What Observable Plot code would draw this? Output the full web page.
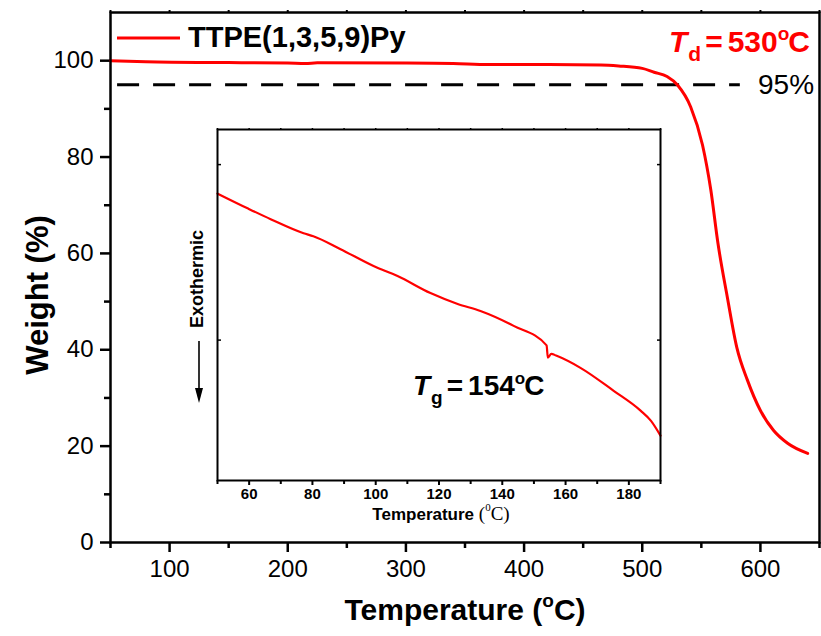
<!DOCTYPE html>
<html><head><meta charset="utf-8">
<script src="https://cdn.jsdelivr.net/npm/d3@7"></script>
<script src="https://cdn.jsdelivr.net/npm/@observablehq/plot@0.6"></script>
<style>
body{margin:0;background:#fff;}
#wrap{position:relative;width:821px;height:636px;overflow:hidden;}
#wrap svg{position:absolute;}
</style></head><body><div id="wrap"></div>
<script>
// TGA curve (main)
const tgaTemp   = [50, 80, 150, 200, 215, 225, 300, 340, 370, 420, 465, 480, 500, 510, 521, 530, 541, 551, 558, 564, 572, 580, 589, 600, 611, 623, 640];
const tgaWeight = [100, 99.8, 99.6, 99.5, 99.4, 99.55, 99.5, 99.4, 99.2, 99.2, 99.1, 98.9, 98.4, 97.6, 96.7, 94.9, 90.4, 82.5, 73.2, 62.2, 50.9, 40.5, 33.7, 27.4, 23.3, 20.6, 18.5];
// DSC curve (inset, arbitrary units)
const dscTemp   = [50, 59.5, 66.8, 77.2, 80.3, 88.9, 99.3, 106.9, 117.3, 125.9, 133.1, 143.6, 154.0, 154.4, 155.5, 157, 164.7, 175.2, 183.7, 187, 190];
const dscSignal = [1.635, 1.551, 1.489, 1.409, 1.392, 1.318, 1.222, 1.165, 1.068, 1.006, 0.966, 0.881, 0.77, 0.70, 0.722, 0.712, 0.642, 0.511, 0.398, 0.34, 0.256];
// threshold line
const thresholdLevel = [95];
const thresholdSpan = [56, 583];
// ticks
const mainXTicks = [100, 200, 300, 400, 500, 600];
const mainXMinor = [50, 150, 250, 350, 450, 550, 650];
const mainYTicks = [0, 20, 40, 60, 80, 100];
const mainYMinor = [10, 30, 50, 70, 90];
const insetXTicks = [60, 80, 100, 120, 140, 160, 180];
const insetXMinor = [50, 70, 90, 110, 130, 150, 170, 190];
const insetYTicks = [0.8, 1.8];

const RED = "#ff0000";
const SANS = "Liberation Sans, Arial, sans-serif";
const SERIF = "Liberation Serif, Times New Roman, serif";

const tga = tgaTemp.map((t, i) => ({t, w: tgaWeight[i]}));
const dsc = dscTemp.map((t, i) => ({t, s: dscSignal[i]}));
const blank = () => "";

const main = Plot.plot({
  width: 821, height: 636,
  marginLeft: 110, marginRight: 2, marginTop: 12, marginBottom: 94,
  style: {fontFamily: SANS, fontSize: "24px", color: "black", background: "white"},
  x: {domain: [50, 650]},
  y: {domain: [0, 110]},
  marks: [
    Plot.axisX({ticks: mainXTicks, tickSize: 10, tickPadding: 7, strokeWidth: 2.5, fontSize: 24, label: null}),
    Plot.axisX({ticks: mainXMinor, tickSize: 6, tickFormat: blank, strokeWidth: 2.5, label: null}),
    Plot.axisX({anchor: "top", ticks: mainXTicks.concat(mainXMinor), tickSize: 3, tickFormat: blank, strokeWidth: 2, label: null}),
    Plot.axisY({ticks: mainYTicks, tickSize: 10, tickPadding: 7, strokeWidth: 2.5, fontSize: 24, label: null}),
    Plot.axisY({ticks: mainYMinor, tickSize: 6, tickFormat: blank, strokeWidth: 2.5, label: null}),
    Plot.ruleY(thresholdLevel, {x1: thresholdSpan[0], x2: thresholdSpan[1], stroke: "black", strokeWidth: 3, strokeDasharray: "22,14"}),
    Plot.line(tga, {x: "t", y: "w", stroke: RED, strokeWidth: 3, curve: "monotone-x"}),
    Plot.frame({stroke: "black", strokeWidth: 2.5})
  ]
});

const inset = Plot.plot({
  width: 540, height: 420,
  marginLeft: 67, marginRight: 30, marginTop: 9, marginBottom: 60,
  style: {fontFamily: SANS, fontSize: "15px", fontWeight: "bold", color: "black", background: "transparent"},
  x: {domain: [50, 190]},
  y: {domain: [0, 2]},
  marks: [
    Plot.axisX({ticks: insetXTicks, tickSize: 5, tickPadding: 3, strokeWidth: 2, fontSize: 15, fontWeight: "bold", label: null}),
    Plot.axisX({ticks: insetXMinor, tickSize: 4, tickFormat: blank, strokeWidth: 2, label: null}),
    Plot.axisX({anchor: "top", ticks: insetXTicks.concat(insetXMinor), tickSize: 2, tickFormat: blank, strokeWidth: 1.5, label: null}),
    Plot.axisY({anchor: "left", ticks: insetYTicks, tickSize: -4, tickFormat: blank, strokeWidth: 1.5, label: null}),
    Plot.axisY({anchor: "right", ticks: insetYTicks, tickSize: -4, tickFormat: blank, strokeWidth: 1.5, label: null}),
    Plot.line(dsc, {x: "t", y: "s", stroke: RED, strokeWidth: 2.2, curve: "monotone-x"}),
    Plot.frame({stroke: "black", strokeWidth: 2})
  ]
});

const wrap = document.getElementById("wrap");
main.style.left = "0px"; main.style.top = "0px";
inset.style.left = "150px"; inset.style.top = "120px";
wrap.appendChild(main);
wrap.appendChild(inset);

function rich(parent, x, y, parts, o) {
  const t = parent.append("text").attr("x", x).attr("y", y)
    .attr("text-anchor", o.anchor || "start")
    .attr("font-family", o.family || SANS)
    .attr("font-size", o.size)
    .attr("font-weight", o.weight || "normal")
    .attr("fill", o.fill || "black");
  if (o.rotate) t.attr("transform", `rotate(${o.rotate},${x},${y})`);
  let cur = 0;
  for (const p of parts) {
    const s = t.append("tspan").text(p.t);
    const sh = p.shift || 0;
    if (sh !== cur) { s.attr("dy", sh - cur); cur = sh; }
    if (p.dx) s.attr("dx", p.dx);
    if (p.size) s.attr("font-size", p.size);
    if (p.style) s.attr("font-style", p.style);
    if (p.weight) s.attr("font-weight", p.weight);
    if (p.family) s.attr("font-family", p.family);
  }
  return t;
}

const ms = d3.select(main);
// legend
ms.append("line").attr("x1", 117).attr("x2", 180).attr("y1", 38).attr("y2", 38).attr("stroke", RED).attr("stroke-width", 3);
rich(ms, 188, 47, [{t: "TTPE(1,3,5,9)Py"}], {size: 29, weight: "bold"});
// Td
rich(ms, 669, 52, [
  {t: "T", style: "italic"},
  {t: "d", size: 21, shift: 9, dx: 1},
  {t: "=", shift: 0, dx: 4},
  {t: "530", dx: 5},
  {t: "o", size: 19, shift: -12},
  {t: "C", shift: 0, dx: -1}
], {size: 30, weight: "bold", fill: RED});
// 95%
rich(ms, 758, 94, [{t: "95%"}], {size: 28});
// axis titles
rich(ms, 465, 620, [{t: "Temperature ("}, {t: "o", size: 19, shift: -13}, {t: "C)", shift: 0}], {size: 30, weight: "bold", anchor: "middle"});
rich(ms, 48, 295, [{t: "Weight (%)"}], {size: 31, weight: "bold", anchor: "middle", rotate: -90});

const is = d3.select(inset);
// inset axis title (inset coords: global - (150,120))
rich(is, 291, 400, [
  {t: "Temperature "},
  {t: "(", family: SERIF, weight: "normal", size: 19},
  {t: "0", family: SERIF, weight: "normal", size: 11, shift: -9},
  {t: "C)", family: SERIF, weight: "normal", size: 19, shift: 0}
], {size: 17, weight: "bold", anchor: "middle"});
// Exothermic + arrow
rich(is, 53, 159, [{t: "Exothermic"}], {size: 18, weight: "bold", anchor: "middle", rotate: -90});
is.append("line").attr("x1", 49).attr("x2", 49).attr("y1", 221).attr("y2", 270).attr("stroke", "black").attr("stroke-width", 1.6);
is.append("path").attr("d", "M45,268 L53,268 L49,283 Z").attr("fill", "black");
// Tg
rich(is, 263, 275, [
  {t: "T", style: "italic"},
  {t: "g", size: 19, shift: 9, dx: 1},
  {t: "=", shift: 0, dx: 4},
  {t: "154", dx: 5},
  {t: "o", size: 17, shift: -11},
  {t: "C", shift: 0, dx: -1}
], {size: 28, weight: "bold"});
</script></body></html>
